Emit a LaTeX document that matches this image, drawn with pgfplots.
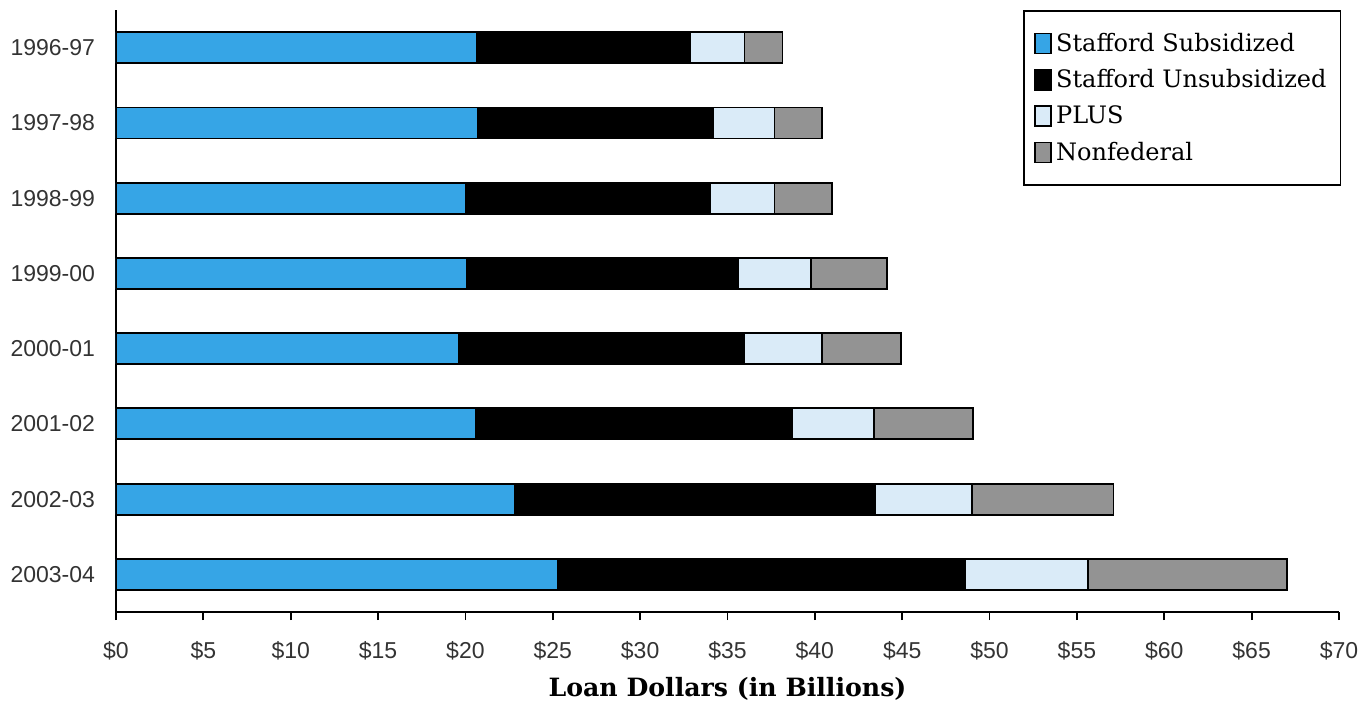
\documentclass[border=0pt]{standalone}
\usepackage{pgfplots}
\pgfplotsset{compat=1.18}
\usepackage{fontspec}
\setmainfont{DejaVu Serif}
\newfontfamily\tickfont{Liberation Sans}

\definecolor{subs}{HTML}{36A5E6}
\definecolor{plus}{HTML}{DAEBF8}
\definecolor{nonfed}{HTML}{939393}

\begin{document}
\begin{tikzpicture}
\path (-58pt,-46pt) rectangle (625pt,306pt);
\begin{axis}[
    at={(0,0)}, anchor=south west,
    scale only axis,
    width=611.5pt, height=301pt,
    xbar stacked,
    bar width=15.5pt,
    y dir=reverse,
    xmin=0, xmax=70,
    ymin=-0.5, ymax=7.5,
    axis lines*=left,
    axis line style={line width=0.9pt},
    xtick={0,5,...,70},
    xticklabel={\$\pgfmathprintnumber{\tick}},
    ytick={0,...,7},
    yticklabels={1996-97,1997-98,1998-99,1999-00,2000-01,2001-02,2002-03,2003-04},
    ytick style={draw=none},
    xtick style={black, line width=0.9pt},
    tick align=outside,
    major tick length=4pt,
    /pgf/number format/assume math mode=true,
    ticklabel style={font=\tickfont\fontsize{11.5}{13}\selectfont, text=black!80},
    xticklabel style={yshift=-7pt},
    yticklabel style={xshift=-3pt},
    xlabel={\textbf{Loan Dollars (in Billions)}},
    xlabel style={font=\fontsize{12.6}{14}\selectfont, yshift=-2pt},
    legend style={at={(rel axis cs:1.002,1)}, anchor=north east,
        draw=black, line width=0.9pt, font=\fontsize{12}{14}\selectfont,
        row sep=3.6pt, inner xsep=5pt, inner ysep=9pt, legend cell align=left},
    legend image code/.code={\draw[#1, line width=0.9pt] (0pt,-5pt) rectangle (8pt,5pt);},
]
\addplot[fill=subs, draw=black, line width=0.9pt] table {
x y
20.65 0
20.71 1
20.02 2
20.08 3
19.62 4
20.60 5
22.83 6
25.30 7
};
\addplot[fill=black, draw=black, line width=0.9pt] table {
x y
12.22 0
13.48 1
14.00 2
15.55 3
16.35 4
18.07 5
20.60 6
23.30 7
};
\addplot[fill=plus, draw=black, line width=0.9pt] table {
x y
3.10 0
3.50 1
3.67 2
4.13 3
4.42 4
4.70 5
5.57 6
7.05 7
};
\addplot[fill=nonfed, draw=black, line width=0.9pt] table {
x y
2.18 0
2.70 1
3.27 2
4.36 3
4.53 4
5.68 5
8.09 6
11.36 7
};
\legend{Stafford Subsidized,Stafford Unsubsidized,PLUS,Nonfederal}
\end{axis}
\end{tikzpicture}
\end{document}
